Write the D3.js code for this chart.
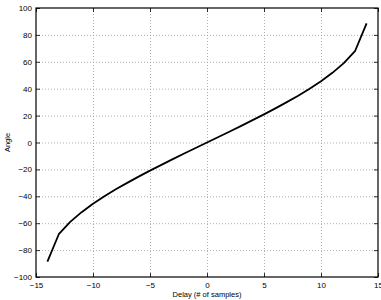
<!DOCTYPE html>
<html>
<head>
<meta charset="utf-8">
<script src="https://cdn.jsdelivr.net/npm/d3@7"></script>
<style>
  body { margin: 0; background: #fff; }
  text { font-family: "Liberation Sans", Arial, sans-serif; fill: #000; }
</style>
</head>
<body>
<div class="container"></div>
<script>
/* values */
const delays = [-14, -13, -12, -11, -10, -9, -8, -7, -6, -5, -4, -3, -2, -1, 0,
                1, 2, 3, 4, 5, 6, 7, 8, 9, 10, 11, 12, 13, 14];
const angles = [-88.5, -68.2, -59, -51.8, -45.6, -40, -34.8, -30, -25.4, -20.9, -16.6, -12.4, -8.2, -4.1, 0,
                4.1, 8.2, 12.4, 16.6, 20.9, 25.4, 30, 34.8, 40, 45.6, 51.8, 59, 68.2, 88.5];
const xTicks = [-15, -10, -5, 0, 5, 10, 15];
const yTicks = [-100, -80, -60, -40, -20, 0, 20, 40, 60, 80, 100];

const w = 381;
const h = 300;
const padL = 36, padR = 378, padT = 8, padB = 277;

const xScale = d3.scaleLinear().domain([-15, 15]).range([padL, padR]);
const yScale = d3.scaleLinear().domain([-100, 100]).range([padB, padT]);

const svg = d3.select(".container")
              .append("svg")
              .attr("width", w)
              .attr("height", h);

/* dotted grid */
svg.append("g")
   .selectAll("line")
   .data(xTicks.slice(1, -1))
   .enter()
   .append("line")
   .attr("x1", d => xScale(d) + 0.5)
   .attr("x2", d => xScale(d) + 0.5)
   .attr("y1", padT)
   .attr("y2", padB)
   .attr("stroke", "#999")
   .attr("stroke-width", 0.8)
   .attr("stroke-dasharray", "1,2");

svg.append("g")
   .selectAll("line")
   .data(yTicks.slice(1, -1))
   .enter()
   .append("line")
   .attr("x1", padL)
   .attr("x2", padR)
   .attr("y1", d => yScale(d) + 0.5)
   .attr("y2", d => yScale(d) + 0.5)
   .attr("stroke", "#999")
   .attr("stroke-width", 0.8)
   .attr("stroke-dasharray", "1,2");

/* axes, ticks pointing inwards like matlab */
const fmt = d => d < 0 ? "\u2212" + (-d) : d;
const xAxis = d3.axisBottom(xScale).tickValues(xTicks).tickSize(-4).tickPadding(5).tickFormat(fmt);
const yAxis = d3.axisLeft(yScale).tickValues(yTicks).tickSize(-4).tickPadding(4).tickFormat(fmt);

svg.append("g")
   .attr("id", "x-axis")
   .attr("transform", "translate(0," + padB + ")")
   .call(xAxis);
svg.append("g")
   .attr("id", "y-axis")
   .attr("transform", "translate(" + padL + ",0)")
   .call(yAxis);
svg.append("g")
   .attr("transform", "translate(0," + padT + ")")
   .call(d3.axisTop(xScale).tickValues(xTicks).tickSize(-4).tickFormat(""));
svg.append("g")
   .attr("transform", "translate(" + padR + ",0)")
   .call(d3.axisRight(yScale).tickValues(yTicks).tickSize(-4).tickFormat(""));

svg.selectAll(".tick text").attr("font-size", 8).attr("font-family", "Liberation Sans, Arial, sans-serif");
svg.selectAll(".domain").remove();
svg.selectAll(".tick line").attr("stroke", "#000").attr("stroke-width", 0.8);

/* frame */
svg.append("rect")
   .attr("x", padL)
   .attr("y", padT)
   .attr("width", padR - padL)
   .attr("height", padB - padT)
   .attr("fill", "none")
   .attr("stroke", "#000")
   .attr("stroke-width", 1.2);

/* the curve */
const line = d3.line()
               .x((d, i) => xScale(delays[i]))
               .y(d => yScale(d));
svg.append("path")
   .datum(angles)
   .attr("d", line)
   .attr("fill", "none")
   .attr("stroke", "#000")
   .attr("stroke-width", 1.8)
   .attr("stroke-linejoin", "round");

/* labels */
svg.append("text")
   .text("Delay (# of samples)")
   .attr("x", xScale(0))
   .attr("y", 297)
   .attr("text-anchor", "middle")
   .attr("font-size", 7.5);
svg.append("text")
   .text("Angle")
   .attr("transform", "translate(10," + yScale(0) + ") rotate(-90)")
   .attr("text-anchor", "middle")
   .attr("font-size", 7.5);
</script>
</body>
</html>
